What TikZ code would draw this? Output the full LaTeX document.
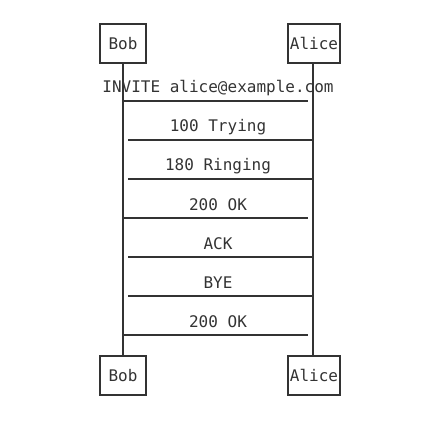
\documentclass[tikz,border=0pt]{standalone}
\usepackage{fontspec}
\setmonofont{DejaVu Sans Mono}
\definecolor{ink}{HTML}{333333}
\begin{document}
\begin{tikzpicture}[x=1pt, y=-1pt, line width=1.6pt, ink,
  party/.style={draw, rectangle, minimum height=39pt, inner sep=1pt, font=\ttfamily\fontsize{16}{18}\selectfont},
  msg/.style={font=\ttfamily\fontsize{16}{18}\selectfont, inner sep=0pt}]
\useasboundingbox (0,0) rectangle (429,427);
\node[party, minimum width=46pt] (bob0) at (123,43.5){Bob};
\node[party, minimum width=52pt, inner sep=0pt] (alice0) at (314,43.5){Alice};
\node[party, minimum width=46pt] (bob1) at (123,375.5){Bob};
\node[party, minimum width=52pt, inner sep=0pt] (alice1) at (314,375.5){Alice};
\draw[](bob0) -- (bob1);
\draw[](alice0.south -| 313,0) -- (alice1.north -| 313,0);
% messages
\coordinate (b1) at (123,101); \coordinate (a1) at (308,101);
\coordinate (a2) at (313,140); \coordinate (b2) at (128,140);
\coordinate (a3) at (313,179); \coordinate (b3) at (128,179);
\coordinate (b4) at (123,218); \coordinate (a4) at (308,218);
\coordinate (a5) at (313,257); \coordinate (b5) at (128,257);
\coordinate (a6) at (313,296); \coordinate (b6) at (128,296);
\coordinate (b7) at (123,335); \coordinate (a7) at (308,335);
\draw[](b1) -- (a1);
\draw[](a2) -- (b2);
\draw[](a3) -- (b3);
\draw[](b4) -- (a4);
\draw[](a5) -- (b5);
\draw[](a6) -- (b6);
\draw[](b7) -- (a7);
\node[msg] (m1) at (218,88){INVITE alice@example.com};
\node[msg] (m2) at (218,127){100 Trying};
\node[msg] (m3) at (218,166){180 Ringing};
\node[msg] (m4) at (218,205){200 OK};
\node[msg] (m5) at (218,244){ACK};
\node[msg] (m6) at (218,283){BYE};
\node[msg] (m7) at (218,322){200 OK};
\end{tikzpicture}
\end{document}
